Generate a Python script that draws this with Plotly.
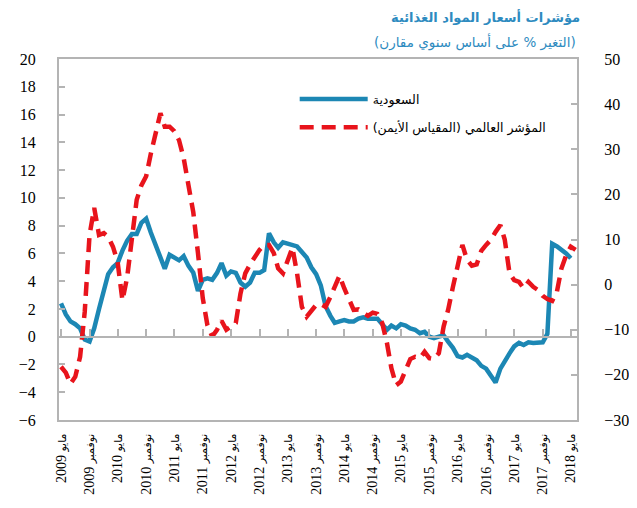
import pandas as pd
import plotly.graph_objects as go

# ---------------- data ----------------
start_month = "2009-05-01"

saudi = [2.4, 1.6, 1.1, 0.9, 0.6, -0.2, -0.35, 0.6, 2.0, 3.3,
         4.5, 5.0, 5.3, 6.2, 6.9, 7.4, 7.4, 8.2, 8.5, 7.5,
         6.6, 5.9, 4.9, 5.9, 5.7, 5.5, 5.8, 5.1, 4.6, 3.3,
         4.1, 4.2, 4.1, 4.6, 5.3, 4.4, 4.7, 4.6, 3.9, 3.6,
         3.9, 4.6, 4.6, 4.8, 7.45, 6.8, 6.4, 6.8, 6.7, 6.6,
         6.5, 6.1, 5.7, 5.0, 4.5, 3.7, 2.2, 1.5, 1.0, 1.1,
         1.2, 1.1, 1.1, 1.3, 1.4, 1.3, 1.3, 1.3, 0.9, 0.5,
         0.8, 0.6, 0.9, 0.8, 0.6, 0.5, 0.25, 0.35, 0.0, -0.1,
         0.0, 0.1, -0.35, -0.8, -1.4, -1.5, -1.3, -1.5, -1.7, -2.1,
         -2.3, -2.8, -3.3, -2.3, -1.7, -1.2, -0.7, -0.45, -0.6, -0.4,
         -0.45, -0.45, -0.4, 0.2, 6.7, 6.5, 6.3, 6.0, 5.65]

world = [-18.2, -19.5, -22.0, -20.4, -16.0, -6.0, 11.0, 17.0, 11.0, 11.4,
         10.6, 8.4, 5.0, -3.5, 1.5, 10.6, 18.8, 22.0, 24.0, 29.0,
         34.0, 38.0, 35.0, 35.0, 34.0, 32.0, 28.0, 22.0, 16.0, 7.0,
         -3.0, -9.0, -11.5, -10.0, -8.0, -10.0, -9.3, -8.5, -2.0, 2.5,
         4.5, 6.2, 7.7, 8.8, 8.8, 7.0, 3.6, 2.5, 5.5, 8.2,
         2.5, -4.9, -7.1, -6.0, -4.5, -4.3, -4.9, -2.7, -0.5, 2.0,
         -0.8, -3.5, -5.6, -5.5, -6.3, -6.9, -6.2, -6.5, -8.5, -13.0,
         -18.5, -22.3, -21.5, -19.0, -16.5, -16.0, -16.3, -14.9, -16.3, -16.5,
         -15.2, -9.3, -5.6, -0.5, 4.0, 8.8, 5.5, 4.2, 4.5, 7.5,
         8.8, 9.9, 11.7, 13.2, 10.0, 2.5, 1.0, 0.6, -0.8, 0.6,
         -0.5, -1.2, -2.5, -3.2, -3.6, -1.5, 3.5, 6.5, 8.4, 7.7]

tick_dates = ["2009-05-01", "2009-11-01", "2010-05-01", "2010-11-01", "2011-05-01",
              "2011-11-01", "2012-05-01", "2012-11-01", "2013-05-01", "2013-11-01",
              "2014-05-01", "2014-11-01", "2015-05-01", "2015-11-01", "2016-05-01",
              "2016-11-01", "2017-05-01", "2017-11-01", "2018-05-01"]
tick_months = ["مايو", "نوفمبر", "مايو", "نوفمبر", "مايو",
               "نوفمبر", "مايو", "نوفمبر", "مايو", "نوفمبر",
               "مايو", "نوفمبر", "مايو", "نوفمبر", "مايو",
               "نوفمبر", "مايو", "نوفمبر", "مايو"]
tick_years = ["2009", "2009", "2010", "2010", "2011",
              "2011", "2012", "2012", "2013", "2013",
              "2014", "2014", "2015", "2015", "2016",
              "2016", "2017", "2017", "2018"]

title_text = "مؤشرات أسعار المواد الغذائية"
subtitle_text = "(التغير % على أساس سنوي مقارن)"
name_saudi = "السعودية"
name_world = "المؤشر العالمي (المقياس الأيمن)"

left_range = [-6, 20]
right_range = [-30, 50]
x_range = ["2009-04-18", "2018-06-10"]

RLM = "\u200f"
def rtl(s):
    return RLM + s + RLM

tick_text = [RLM + "<span style='font-size:11px'>" + m + "</span> "
             + "<span style='font-size:14px'>" + y + "</span>" + RLM
             for m, y in zip(tick_months, tick_years)]

months_saudi = pd.date_range(start_month, periods=len(saudi), freq="MS")
months_world = pd.date_range(start_month, periods=len(world), freq="MS")

BLUE = "#1c87b4"
RED = "#e8141c"
GRAY = "#b4b4b4"
TITLE_BLUE = "#2e8bc0"
SERIF = "Liberation Serif, DejaVu Sans, serif"
SANS = "DejaVu Sans, Liberation Sans, sans-serif"

fig = go.Figure()
fig.add_trace(go.Scatter(
    x=months_saudi, y=saudi, name=rtl(name_saudi), mode="lines",
    line=dict(color=BLUE, width=4.5), xaxis="x", yaxis="y",
    legendgroup="a"))
fig.add_trace(go.Scatter(
    x=months_world, y=world, name=rtl(name_world), mode="lines",
    line=dict(color=RED, width=4.5, dash="14px,8px"), xaxis="x2", yaxis="y2",
    legendgroup="b"))

zero_pos = (0 - left_range[0]) / (left_range[1] - left_range[0])

fig.update_layout(
    width=629, height=500,
    margin=dict(l=51, r=60, t=51, b=88),
    paper_bgcolor="white", plot_bgcolor="white",
    showlegend=True,
    legend=dict(x=0.455, y=0.93, xanchor="left", yanchor="top",
                bgcolor="rgba(0,0,0,0)", font=dict(family=SANS, size=12.5, color="black"),
                itemwidth=68, tracegroupgap=9, traceorder="grouped"),
    xaxis=dict(type="date", range=x_range, tickvals=tick_dates,
               ticktext=tick_text, tickangle=-90,
               ticks="", showline=True, linecolor=GRAY, linewidth=2, mirror=True,
               showgrid=False, zeroline=False, automargin=False,
               ticklabelstandoff=6,
               tickfont=dict(family=SERIF, size=14, color="black")),
    xaxis2=dict(type="date", range=x_range, overlaying="x", anchor="free",
                position=zero_pos, side="bottom", tickvals=tick_dates,
                showticklabels=False, ticks="inside", ticklen=7, tickwidth=2,
                tickcolor=GRAY, showline=True, linecolor=GRAY, linewidth=2,
                showgrid=False, zeroline=False),
    yaxis=dict(range=left_range, dtick=2, tick0=0, ticks="inside", ticklen=6,
               tickwidth=2, tickcolor=GRAY, showline=True, linecolor=GRAY,
               linewidth=2, showgrid=False, zeroline=False, automargin=False,
               ticklabelstandoff=18,
               tickfont=dict(family=SERIF, size=16, color="black")),
    yaxis2=dict(range=right_range, dtick=10, tick0=0, overlaying="y", side="right",
                anchor="x", ticks="inside", ticklen=6, tickwidth=2, tickcolor=GRAY,
                showline=True, linecolor=GRAY, linewidth=2, showgrid=False,
                zeroline=False, ticklabelstandoff=22, automargin=False,
                tickfont=dict(family=SERIF, size=16, color="black")),
    annotations=[
        dict(text="<b>" + rtl(title_text) + "</b>", xref="paper", yref="paper",
             x=1.01, y=1.117, xanchor="right", yanchor="middle", showarrow=False,
             font=dict(family=SANS, size=13, color=TITLE_BLUE)),
        dict(text=rtl(subtitle_text), xref="paper", yref="paper",
             x=1.002, y=1.047, xanchor="right", yanchor="middle", showarrow=False,
             font=dict(family=SANS, size=13.5, color=TITLE_BLUE)),
    ],
)

fig.write_html("out.html")
